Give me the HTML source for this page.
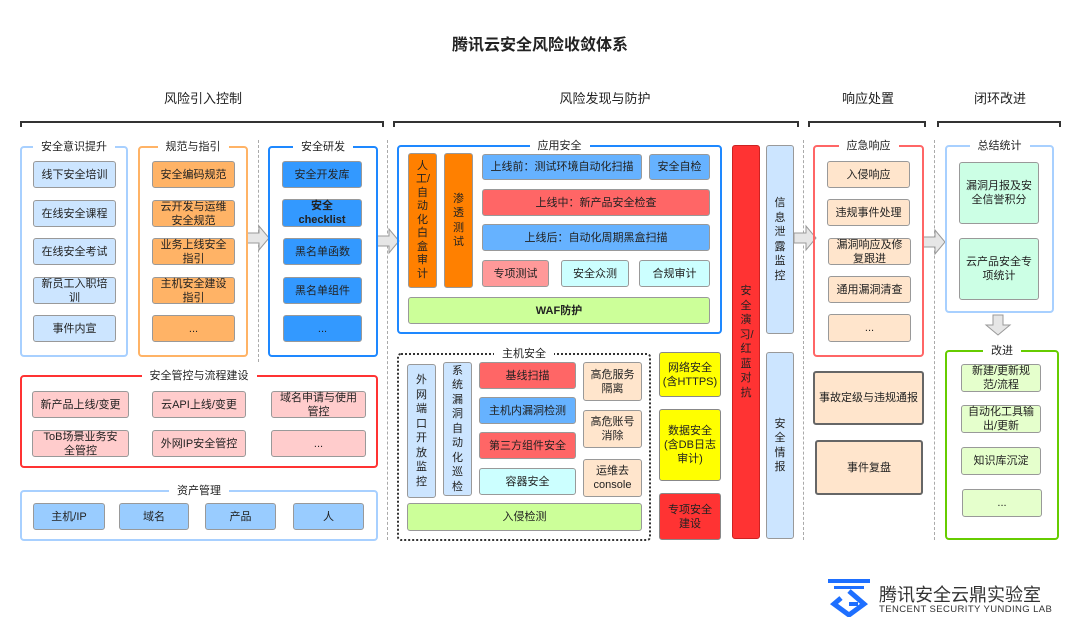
<!DOCTYPE html>
<html><head><meta charset="utf-8"><style>
body{margin:0;width:1080px;height:640px;background:#fff;position:relative;overflow:hidden;font-family:"Liberation Sans","Noto Sans CJK SC",sans-serif;color:#222}
div{box-sizing:border-box}
.a{position:absolute}
.g{position:absolute;border:2px solid;border-radius:4px}
.gt{position:absolute;left:0;right:0;top:-9px;text-align:center;font-size:11px;line-height:16px}
.gt span{background:#fff;padding:0 8px}
.b{position:absolute;border:1px solid #999;border-radius:3px;display:flex;align-items:center;justify-content:center;text-align:center;font-size:11px;line-height:14px;padding:0 6px}
.v{flex-direction:column;padding:2px 0}
.v span{display:block;width:13px;margin:0 auto;word-break:break-all;line-height:14.5px}
.h{position:absolute;font-size:13px;transform:translateX(-50%);top:88px;white-space:nowrap}
.br{position:absolute;top:121px;height:6px;border:2px solid #333;border-bottom:none}
.dl{position:absolute;top:140px;border-left:1.5px dashed #aaa;width:0}
</style></head><body>
<div class="a" style="left:0;right:0;top:31px;text-align:center;font-size:16px;font-weight:bold">腾讯云安全风险收敛体系</div>
<div class="h" style="left:203px">风险引入控制</div>
<div class="h" style="left:605px">风险发现与防护</div>
<div class="h" style="left:868px">响应处置</div>
<div class="h" style="left:1000px">闭环改进</div>
<div class="br" style="left:20px;width:364px"></div>
<div class="br" style="left:393px;width:406px"></div>
<div class="br" style="left:808px;width:118px"></div>
<div class="br" style="left:937px;width:124px"></div>

<div class="dl" style="left:258px;height:222px"></div>
<div class="dl" style="left:387px;height:400px"></div>
<div class="dl" style="left:803px;height:400px"></div>
<div class="dl" style="left:934px;height:400px"></div>

<svg class="a" style="left:0;top:0" width="1080" height="640">
<g fill="#e6e6e6" stroke="#999" stroke-width="1">
<path d="M247 233h12v-7l10 12-10 12v-7h-12z"/>
<path d="M377 236h12v-7l10 12-10 12v-7h-12z"/>
<path d="M794 233h12v-7l10 12-10 12v-7h-12z"/>
<path d="M923 237h12v-7l10 12-10 12v-7h-12z"/>
<path d="M993 315v10h-7l12 10 12-10h-7v-10z"/>
</g>
</svg>

<div class="g" style="left:20px;top:146px;width:108px;height:211px;border-color:#a8d0ff"><div class="gt"><span>安全意识提升</span></div></div>
<div class="b" style="left:33px;top:161px;width:83px;height:27px;background:#cce5ff">线下安全培训</div>
<div class="b" style="left:33px;top:200px;width:83px;height:27px;background:#cce5ff">在线安全课程</div>
<div class="b" style="left:33px;top:238px;width:83px;height:27px;background:#cce5ff">在线安全考试</div>
<div class="b" style="left:33px;top:277px;width:83px;height:27px;background:#cce5ff">新员工入职培训</div>
<div class="b" style="left:33px;top:315px;width:83px;height:27px;background:#cce5ff">事件内宣</div>

<div class="g" style="left:138px;top:146px;width:110px;height:211px;border-color:#ffb366"><div class="gt"><span>规范与指引</span></div></div>
<div class="b" style="left:152px;top:161px;width:83px;height:27px;background:#ffb366">安全编码规范</div>
<div class="b" style="left:152px;top:200px;width:83px;height:27px;background:#ffb366">云开发与运维安全规范</div>
<div class="b" style="left:152px;top:238px;width:83px;height:27px;background:#ffb366">业务上线安全指引</div>
<div class="b" style="left:152px;top:277px;width:83px;height:27px;background:#ffb366">主机安全建设指引</div>
<div class="b" style="left:152px;top:315px;width:83px;height:27px;background:#ffb366">...</div>

<div class="g" style="left:268px;top:146px;width:110px;height:211px;border-color:#1e88ff"><div class="gt"><span>安全研发</span></div></div>
<div class="b" style="left:282px;top:161px;width:80px;height:27px;background:#3399ff">安全开发库</div>
<div class="b" style="left:282px;top:199px;width:80px;height:28px;background:#3399ff;font-weight:bold">安全<br>checklist</div>
<div class="b" style="left:283px;top:238px;width:79px;height:27px;background:#3399ff">黑名单函数</div>
<div class="b" style="left:283px;top:277px;width:79px;height:27px;background:#3399ff">黑名单组件</div>
<div class="b" style="left:283px;top:315px;width:79px;height:27px;background:#3399ff">...</div>

<div class="g" style="left:20px;top:375px;width:358px;height:93px;border-color:#ff3333"><div class="gt"><span>安全管控与流程建设</span></div></div>
<div class="b" style="left:32px;top:391px;width:97px;height:27px;background:#ffcccc">新产品上线/变更</div>
<div class="b" style="left:152px;top:391px;width:94px;height:27px;background:#ffcccc">云API上线/变更</div>
<div class="b" style="left:271px;top:391px;width:95px;height:27px;background:#ffcccc">域名申请与使用管控</div>
<div class="b" style="left:32px;top:430px;width:97px;height:27px;background:#ffcccc">ToB场景业务安全管控</div>
<div class="b" style="left:152px;top:430px;width:94px;height:27px;background:#ffcccc">外网IP安全管控</div>
<div class="b" style="left:271px;top:430px;width:95px;height:27px;background:#ffcccc">...</div>

<div class="g" style="left:20px;top:490px;width:358px;height:51px;border-color:#a8d0ff"><div class="gt"><span>资产管理</span></div></div>
<div class="b" style="left:33px;top:503px;width:72px;height:27px;background:#99ccff">主机/IP</div>
<div class="b" style="left:119px;top:503px;width:70px;height:27px;background:#99ccff">域名</div>
<div class="b" style="left:205px;top:503px;width:71px;height:27px;background:#99ccff">产品</div>
<div class="b" style="left:293px;top:503px;width:71px;height:27px;background:#99ccff">人</div>

<div class="g" style="left:397px;top:145px;width:325px;height:189px;border-color:#1e88ff"><div class="gt"><span>应用安全</span></div></div>
<div class="b v" style="left:408px;top:153px;width:29px;height:135px;background:#ff8000"><span style="line-height:13.5px">人工/自动化白盒审计</span></div>
<div class="b v" style="left:444px;top:153px;width:29px;height:135px;background:#ff8000"><span>渗透测试</span></div>
<div class="b" style="left:482px;top:154px;width:160px;height:26px;background:#66b2ff">上线前：测试环境自动化扫描</div>
<div class="b" style="left:649px;top:154px;width:61px;height:26px;background:#66b2ff">安全自检</div>
<div class="b" style="left:482px;top:189px;width:228px;height:27px;background:#ff6666">上线中：新产品安全检查</div>
<div class="b" style="left:482px;top:224px;width:228px;height:27px;background:#66b2ff">上线后：自动化周期黑盒扫描</div>
<div class="b" style="left:482px;top:260px;width:67px;height:27px;background:#ff9999">专项测试</div>
<div class="b" style="left:561px;top:260px;width:68px;height:27px;background:#ccffff">安全众测</div>
<div class="b" style="left:639px;top:260px;width:71px;height:27px;background:#ccffff">合规审计</div>
<div class="b" style="left:408px;top:297px;width:302px;height:27px;background:#ccff99;font-weight:bold">WAF防护</div>

<div class="g" style="left:397px;top:353px;width:254px;height:188px;border:2px dotted #333"><div class="gt"><span>主机安全</span></div></div>
<div class="b v" style="left:407px;top:364px;width:29px;height:134px;background:#cce5ff"><span>外网端口开放监控</span></div>
<div class="b v" style="left:443px;top:362px;width:29px;height:134px;background:#cce5ff"><span>系统漏洞自动化巡检</span></div>
<div class="b" style="left:479px;top:362px;width:97px;height:27px;background:#ff6666">基线扫描</div>
<div class="b" style="left:479px;top:397px;width:97px;height:27px;background:#66b2ff">主机内漏洞检测</div>
<div class="b" style="left:479px;top:432px;width:97px;height:27px;background:#ff6666">第三方组件安全</div>
<div class="b" style="left:479px;top:468px;width:97px;height:27px;background:#ccffff">容器安全</div>
<div class="b" style="left:583px;top:362px;width:59px;height:39px;background:#ffe5cc;padding:0 3px">高危服务隔离</div>
<div class="b" style="left:583px;top:410px;width:59px;height:38px;background:#ffe5cc;padding:0 3px">高危账号消除</div>
<div class="b" style="left:583px;top:459px;width:59px;height:38px;background:#ffe5cc;padding:0 3px">运维去<br>console</div>
<div class="b" style="left:407px;top:503px;width:235px;height:28px;background:#ccff99">入侵检测</div>

<div class="b" style="left:659px;top:352px;width:62px;height:45px;background:#ffff00;border-color:#888;padding:0 2px">网络安全(含HTTPS)</div>
<div class="b" style="left:659px;top:409px;width:62px;height:72px;background:#ffff00;border-color:#888;padding:0 4px">数据安全(含DB日志审计)</div>
<div class="b" style="left:659px;top:493px;width:62px;height:47px;background:#ff3333;border-color:#888">专项安全建设</div>

<div class="b v" style="left:732px;top:145px;width:28px;height:394px;background:#ff3333;border-color:#c22"><span>安全演习/红蓝对抗</span></div>
<div class="b v" style="left:766px;top:145px;width:28px;height:189px;background:#cce5ff"><span>信息泄露监控</span></div>
<div class="b v" style="left:766px;top:352px;width:28px;height:187px;background:#cce5ff"><span>安全情报</span></div>

<div class="g" style="left:813px;top:145px;width:111px;height:212px;border-color:#ff6666"><div class="gt"><span>应急响应</span></div></div>
<div class="b" style="left:827px;top:161px;width:83px;height:27px;background:#ffe5cc">入侵响应</div>
<div class="b" style="left:827px;top:199px;width:83px;height:27px;background:#ffe5cc">违规事件处理</div>
<div class="b" style="left:828px;top:238px;width:83px;height:27px;background:#ffe5cc">漏洞响应及修复跟进</div>
<div class="b" style="left:828px;top:276px;width:83px;height:27px;background:#ffe5cc">通用漏洞清查</div>
<div class="b" style="left:828px;top:314px;width:83px;height:28px;background:#ffe5cc">...</div>
<div class="b" style="left:813px;top:371px;width:111px;height:54px;background:#ffe5cc;border:2px solid #666;padding:0 2px">事故定级与违规通报</div>
<div class="b" style="left:815px;top:440px;width:108px;height:55px;background:#ffe5cc;border:2px solid #666">事件复盘</div>

<div class="g" style="left:945px;top:145px;width:109px;height:168px;border-color:#a8d0ff"><div class="gt"><span>总结统计</span></div></div>
<div class="b" style="left:959px;top:162px;width:80px;height:62px;background:#ccffe5">漏洞月报及安全信誉积分</div>
<div class="b" style="left:959px;top:238px;width:80px;height:62px;background:#ccffe5">云产品安全专项统计</div>

<div class="g" style="left:945px;top:350px;width:114px;height:190px;border-color:#66cc00"><div class="gt"><span>改进</span></div></div>
<div class="b" style="left:961px;top:364px;width:80px;height:28px;background:#e5ffcc">新建/更新规范/流程</div>
<div class="b" style="left:961px;top:405px;width:80px;height:28px;background:#e5ffcc">自动化工具输出/更新</div>
<div class="b" style="left:961px;top:447px;width:80px;height:28px;background:#e5ffcc">知识库沉淀</div>
<div class="b" style="left:962px;top:489px;width:80px;height:28px;background:#e5ffcc">...</div>

<svg class="a" style="left:826px;top:577px" width="46" height="40">
<rect x="2" y="2" width="42" height="4" fill="#1e6fff"/>
<rect x="8" y="9" width="30" height="3" fill="#1e6fff"/>
<path d="M23 14 L38 27 L23 38 L8 27 L15 21" fill="none" stroke="#1e6fff" stroke-width="5"/>
<path d="M23 27 h9" stroke="#1e6fff" stroke-width="4"/>
</svg>
<div class="a" style="left:879px;top:581px;font-size:18px;color:#333;white-space:nowrap">腾讯安全云鼎实验室</div>
<div class="a" style="left:879px;top:604px;font-size:9.5px;color:#333;letter-spacing:0.4px;white-space:nowrap">TENCENT SECURITY YUNDING LAB</div>
</body></html>
